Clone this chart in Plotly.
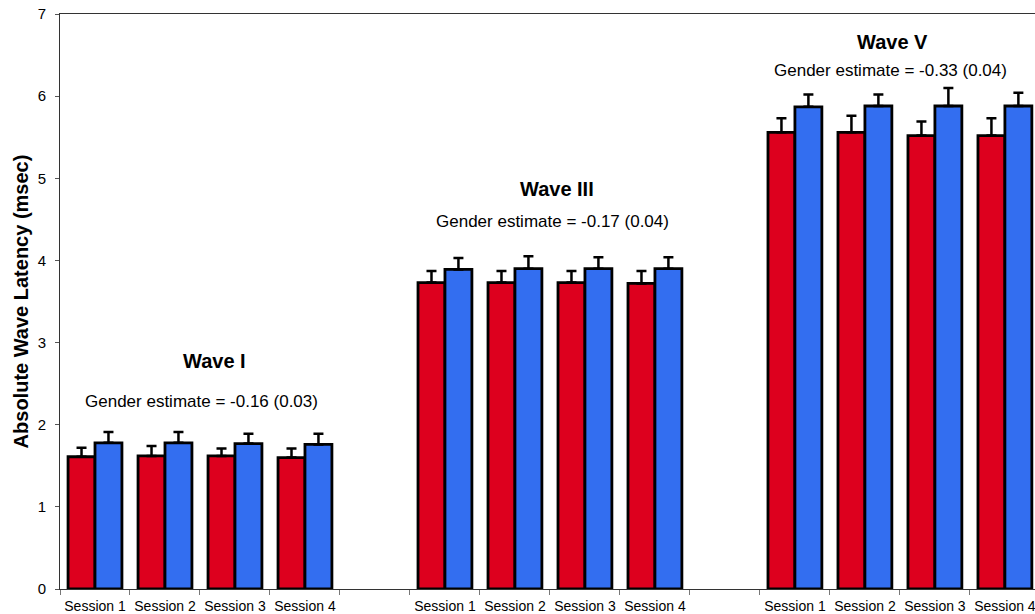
import plotly.graph_objects as go

# session slots: 4 sessions per wave, one empty slot between waves
positions = [0, 1, 2, 3, 5, 6, 7, 8, 10, 11, 12, 13]
session_labels = ['Session 1', 'Session 2', 'Session 3', 'Session 4'] * 3

# mean latency (msec) and upper error
red_vals = [1.61, 1.62, 1.62, 1.60, 3.73, 3.73, 3.73, 3.72, 5.56, 5.56, 5.52, 5.52]
red_err = [0.11, 0.12, 0.09, 0.11, 0.14, 0.14, 0.14, 0.15, 0.17, 0.20, 0.17, 0.21]
blue_vals = [1.78, 1.78, 1.77, 1.76, 3.89, 3.90, 3.90, 3.90, 5.87, 5.88, 5.88, 5.88]
blue_err = [0.13, 0.13, 0.12, 0.13, 0.14, 0.15, 0.14, 0.14, 0.15, 0.14, 0.22, 0.16]

wave_names = ['Wave I', 'Wave III', 'Wave V']
wave_estimates = ['Gender estimate = -0.16 (0.03)',
                  'Gender estimate = -0.17 (0.04)',
                  'Gender estimate = -0.33 (0.04)']
wave_title_x = [1.71, 6.6, 11.4]
wave_title_y = [2.78, 4.87, 6.66]
wave_est_x = [1.52, 6.53, 11.37]
wave_est_y = [2.28, 4.47, 6.31]

font_family = 'Liberation Sans, Arial, sans-serif'

fig = go.Figure()

fig.add_trace(go.Bar(x=positions, y=red_vals,
                     marker=dict(color='#DD001E', line=dict(color='black', width=2.8)),
                     error_y=dict(type='data', symmetric=False, array=red_err,
                                  arrayminus=[0] * len(red_err),
                                  color='black', thickness=2.5, width=5),
                     name='Male', showlegend=False))

fig.add_trace(go.Bar(x=positions, y=blue_vals,
                     marker=dict(color='#336EF0', line=dict(color='black', width=2.8)),
                     error_y=dict(type='data', symmetric=False, array=blue_err,
                                  arrayminus=[0] * len(blue_err),
                                  color='black', thickness=2.5, width=5),
                     name='Female', showlegend=False))

for i in range(3):
    fig.add_annotation(x=wave_title_x[i], y=wave_title_y[i], text='<b>' + wave_names[i] + '</b>',
                       showarrow=False, font=dict(size=20, color='black', family=font_family))
    fig.add_annotation(x=wave_est_x[i], y=wave_est_y[i], text=wave_estimates[i],
                       showarrow=False, font=dict(size=17, color='black', family=font_family))

fig.update_layout(width=1035, height=614,
                  margin=dict(l=60, r=0, t=14, b=25),
                  plot_bgcolor='white', paper_bgcolor='white',
                  barmode='group', bargap=0.23, bargroupgap=0,
                  font=dict(family=font_family, color='black'),
                  xaxis=dict(range=[-0.5, 13.43], tickmode='array',
                             tickvals=positions, ticktext=session_labels,
                             ticks='', showgrid=False, zeroline=False, automargin=False,
                             showline=True, linecolor='#333333', linewidth=1, mirror=True,
                             tickfont=dict(size=14), ticklabelstandoff=4,
                             ticklabeloverflow='allow',
                             minor=dict(tick0=-0.5, dtick=1, ticks='outside',
                                        ticklen=5, tickcolor='#777777', showgrid=False)),
                  yaxis=dict(range=[0, 7], tickmode='linear', tick0=0, dtick=1,
                             ticks='outside', ticklen=4, tickcolor='#555555',
                             showgrid=False, zeroline=False, automargin=False,
                             showline=True, linecolor='#333333', linewidth=1,
                             tickfont=dict(size=15), ticklabelstandoff=6,
                             title=dict(text='<b>Absolute Wave Latency (msec)</b>',
                                        font=dict(size=20), standoff=3)))

# drop the page's default body margin so the figure sits at the top-left corner
fig.write_html("out.html", config={'displayModeBar': False},
               post_script="document.body.style.margin='0';")
